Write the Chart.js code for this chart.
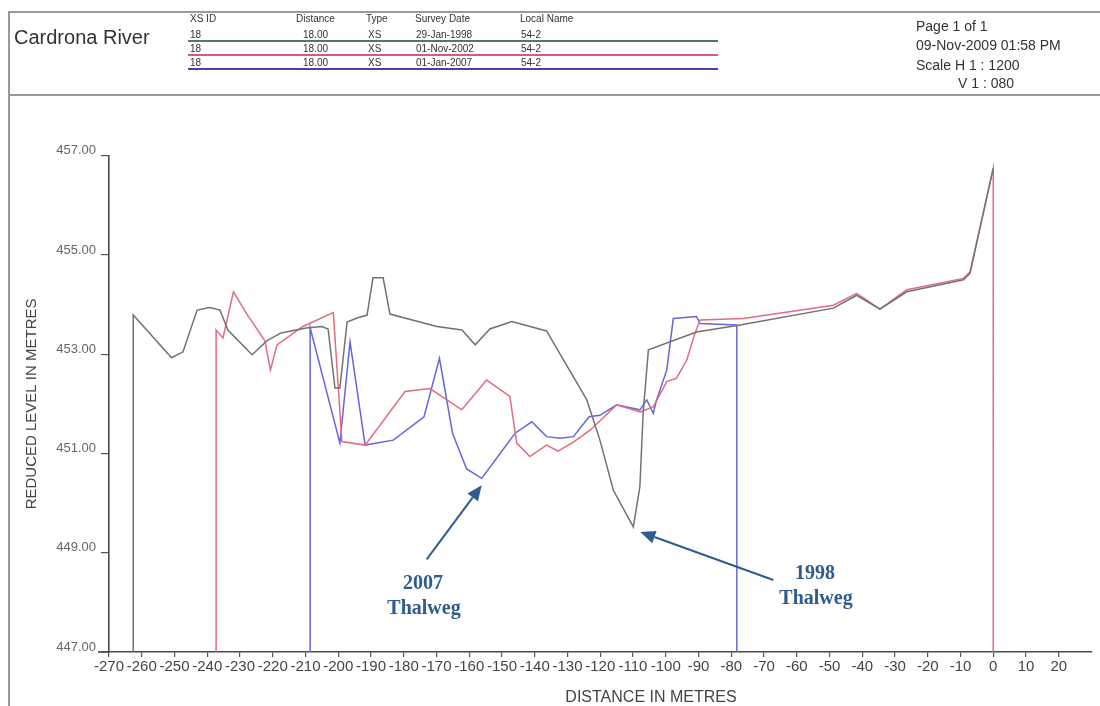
<!DOCTYPE html>
<html>
<head>
<meta charset="utf-8">
<script src="https://cdn.jsdelivr.net/npm/chart.js@4.4.1/dist/chart.umd.min.js"></script>
<style>
  html, body { margin:0; padding:0; background:#fff; }
  #wrap { position:relative; width:1100px; height:706px; overflow:hidden; font-family:"Liberation Sans", Arial, sans-serif; color:#333; }
  #c { position:absolute; left:0; top:0; }
  .t { position:absolute; white-space:nowrap; transform:translateY(-50%); line-height:1; }
  .hd { font-size:10px; color:#333; }
  .ln { position:absolute; height:0; }
  .ann { position:absolute; white-space:nowrap; transform:translate(-50%,-50%); font-family:"Liberation Serif","Times New Roman",serif; font-weight:bold; font-size:20px; color:#2f5c8f; line-height:1; }
</style>
</head>
<body>
<div id="wrap">
  <canvas id="c" width="1100" height="706"></canvas>

  <!-- frame -->
  <div class="ln" style="left:8px;top:11px;width:1092px;border-top:2px solid #9a9a9a;"></div>
  <div class="ln" style="left:8px;top:94px;width:1092px;border-top:2px solid #9a9a9a;"></div>
  <div style="position:absolute;left:8px;top:11px;width:0;height:695px;border-left:2px solid #9a9a9a;"></div>

  <!-- title block -->
  <div class="t" style="left:14px;top:37px;font-size:20px;color:#333;">Cardrona River</div>

  <div class="t hd" style="left:190px;top:19px;">XS ID</div>
  <div class="t hd" style="left:296px;top:19px;">Distance</div>
  <div class="t hd" style="left:366px;top:19px;">Type</div>
  <div class="t hd" style="left:415px;top:19px;">Survey Date</div>
  <div class="t hd" style="left:520px;top:19px;">Local Name</div>

  <div class="t hd" style="left:190px;top:35px;">18</div>
  <div class="t hd" style="left:303px;top:35px;">18.00</div>
  <div class="t hd" style="left:368px;top:35px;">XS</div>
  <div class="t hd" style="left:416px;top:35px;">29-Jan-1998</div>
  <div class="t hd" style="left:521px;top:35px;">54-2</div>
  <div class="ln" style="left:188px;top:40px;width:530px;border-top:2px solid #4d7d5d;"></div>

  <div class="t hd" style="left:190px;top:49px;">18</div>
  <div class="t hd" style="left:303px;top:49px;">18.00</div>
  <div class="t hd" style="left:368px;top:49px;">XS</div>
  <div class="t hd" style="left:416px;top:49px;">01-Nov-2002</div>
  <div class="t hd" style="left:521px;top:49px;">54-2</div>
  <div class="ln" style="left:188px;top:54px;width:530px;border-top:2px solid #d85a78;"></div>

  <div class="t hd" style="left:190px;top:63px;">18</div>
  <div class="t hd" style="left:303px;top:63px;">18.00</div>
  <div class="t hd" style="left:368px;top:63px;">XS</div>
  <div class="t hd" style="left:416px;top:63px;">01-Jan-2007</div>
  <div class="t hd" style="left:521px;top:63px;">54-2</div>
  <div class="ln" style="left:188px;top:68px;width:530px;border-top:2px solid #4444a8;"></div>

  <div class="t" style="left:916px;top:26px;font-size:14px;">Page 1 of 1</div>
  <div class="t" style="left:916px;top:45px;font-size:14px;">09-Nov-2009 01:58 PM</div>
  <div class="t" style="left:916px;top:65px;font-size:14px;">Scale H 1 : 1200</div>
  <div class="t" style="left:958px;top:83px;font-size:14px;">V 1 : 080</div>

  <!-- x axis title -->
  <div class="t" style="left:651px;top:697px;font-size:16px;color:#444;transform:translate(-50%,-50%);">DISTANCE IN METRES</div>

  <!-- annotations -->
  <div class="ann" style="left:423px;top:582px;">2007</div>
  <div class="ann" style="left:424px;top:607px;">Thalweg</div>
  <div class="ann" style="left:815px;top:572px;">1998</div>
  <div class="ann" style="left:816px;top:597px;">Thalweg</div>
</div>

<script>
// ---- data (distance in metres, reduced level in metres) ----
const series1998X = [-262.6,-262.6,-250.9,-247.4,-243.1,-239.2,-236.1,-233.7,-226.3,-221.8,-217.5,-209.8,-205.0,-203.1,-201.0,-199.5,-197.3,-194.3,-191.2,-189.4,-186.3,-184.2,-169.9,-162.2,-158.2,-153.7,-147.0,-136.4,-124.1,-120.1,-116.0,-109.9,-107.9,-106.9,-105.3,-90.6,-77.3,-48.8,-41.7,-34.6,-26.4,-9.1,-7.1,0.0];
const series1998Y = [447,453.79,452.93,453.05,453.89,453.94,453.89,453.49,452.99,453.27,453.43,453.53,453.56,453.51,452.32,452.32,453.65,453.73,453.79,454.54,454.54,453.81,453.56,453.49,453.19,453.51,453.66,453.47,452.08,451.27,450.26,449.52,450.33,451.82,453.09,453.45,453.59,453.93,454.19,453.91,454.26,454.50,454.63,456.75];

const series2002X = [-237.3,-237.3,-235.2,-232.0,-227.9,-222.4,-220.7,-218.7,-210.8,-201.5,-198.9,-191.8,-179.6,-172.0,-162.3,-154.7,-147.6,-145.5,-141.5,-136.4,-132.9,-128.2,-123.1,-115.0,-107.9,-103.8,-99.7,-96.7,-93.6,-91.1,-89.5,-76.3,-48.8,-41.7,-34.6,-26.4,-9.1,-7.1,0.0,0.0];
const series2002Y = [447,453.49,453.33,454.26,453.81,453.27,452.68,453.19,453.56,453.84,451.24,451.17,452.25,452.31,451.88,452.48,452.15,451.21,450.94,451.17,451.05,451.23,451.47,451.98,451.84,451.94,452.45,452.52,452.88,453.42,453.69,453.72,453.99,454.23,453.91,454.30,454.53,454.66,456.75,447];

const series2007X = [-208.6,-208.6,-199.5,-196.4,-191.8,-183.2,-173.8,-169.1,-165.1,-160.8,-156.2,-151.6,-146.0,-140.9,-136.4,-132.3,-128.2,-123.4,-120.1,-115.0,-107.9,-105.8,-103.8,-102.8,-99.7,-97.7,-90.6,-89.5,-78.3,-78.3];
const series2007Y = [447,453.54,451.21,453.25,451.17,451.27,451.74,452.92,451.41,450.69,450.50,450.91,451.41,451.64,451.34,451.31,451.34,451.74,451.77,451.98,451.88,452.08,451.81,452.08,452.68,453.72,453.76,453.62,453.59,447];

const xTickValues = [-270,-260,-250,-240,-230,-220,-210,-200,-190,-180,-170,-160,-150,-140,-130,-120,-110,-100,-90,-80,-70,-60,-50,-40,-30,-20,-10,0,10,20];
const yTickValues = [447,449,451,453,455,457];

const toPts = (xs, ys) => xs.map((x, i) => ({ x: x, y: ys[i] }));

function thalweg(xs, ys) {
  let best = -1;
  ys.forEach((v, i) => { if (v > 447 && (best < 0 || v < ys[best])) best = i; });
  return { x: xs[best], y: ys[best] };
}

const arrowPlugin = {
  id: 'thalwegArrows',
  afterDatasetsDraw(chart) {
    const { ctx, chartArea, scales: { x, y } } = chart;
    // short extension of the distance axis to the left of the level axis
    ctx.save();
    ctx.strokeStyle = '#4a4a4a'; ctx.lineWidth = 1.6;
    ctx.beginPath(); ctx.moveTo(chartArea.left - 11, chartArea.bottom); ctx.lineTo(chartArea.left, chartArea.bottom); ctx.stroke();
    ctx.restore();

    const col = '#2f5c8f';
    function arrow(hx, hy, tx, ty) {
      ctx.save();
      ctx.strokeStyle = col; ctx.fillStyle = col; ctx.lineWidth = 2;
      const ang = Math.atan2(hy - ty, hx - tx);
      const L = 15, W = 6.5;
      const bx = hx - L * Math.cos(ang), by = hy - L * Math.sin(ang);
      ctx.beginPath(); ctx.moveTo(tx, ty); ctx.lineTo(bx, by); ctx.stroke();
      ctx.beginPath();
      ctx.moveTo(hx, hy);
      ctx.lineTo(bx + W * Math.sin(ang), by - W * Math.cos(ang));
      ctx.lineTo(bx - W * Math.sin(ang), by + W * Math.cos(ang));
      ctx.closePath(); ctx.fill();
      ctx.restore();
    }
    const t07 = thalweg(series2007X, series2007Y);
    const p07x = x.getPixelForValue(t07.x), p07y = y.getPixelForValue(t07.y);
    arrow(p07x, p07y + 7, p07x - 55, p07y + 81);
    const t98 = thalweg(series1998X, series1998Y);
    const p98x = x.getPixelForValue(t98.x), p98y = y.getPixelForValue(t98.y);
    arrow(p98x + 7, p98y + 5, p98x + 140, p98y + 53);
  }
};

const axisFont = { family: "'Liberation Sans', Arial, sans-serif" };

new Chart(document.getElementById('c').getContext('2d'), {
  type: 'scatter',
  data: {
    datasets: [
      { label: '29-Jan-1998', data: toPts(series1998X, series1998Y), showLine: true, borderColor: '#727272', borderWidth: 1.5, pointRadius: 0, tension: 0, fill: false },
      { label: '01-Nov-2002', data: toPts(series2002X, series2002Y), showLine: true, borderColor: '#e46c80', borderWidth: 1.5, pointRadius: 0, tension: 0, fill: false },
      { label: '01-Jan-2007', data: toPts(series2007X, series2007Y), showLine: true, borderColor: '#6666dc', borderWidth: 1.5, pointRadius: 0, tension: 0, fill: false }
    ]
  },
  options: {
    responsive: false,
    animation: false,
    layout: { padding: { left: 20, right: 8.5, top: 155.8, bottom: 0 } },
    plugins: { legend: { display: false }, tooltip: { enabled: false } },
    scales: {
      x: {
        type: 'linear', min: -270, max: 30,
        afterBuildTicks: (s) => { s.ticks = xTickValues.map(v => ({ value: v })); },
        afterFit: (s) => { s.height = 54; },
        grid: { drawOnChartArea: false, drawTicks: true, tickLength: 5, color: '#555', lineWidth: 1.2 },
        border: { display: true, color: '#4a4a4a', width: 1.6 },
        ticks: { autoSkip: false, maxRotation: 0, minRotation: 0, padding: 1, color: '#444', font: Object.assign({ size: 15 }, axisFont), callback: (v) => String(v) }
      },
      y: {
        type: 'linear', min: 447, max: 457,
        afterBuildTicks: (s) => { s.ticks = yTickValues.map(v => ({ value: v })); },
        afterFit: (s) => { s.width = 89; },
        grid: { drawOnChartArea: false, drawTicks: true, tickLength: 8, color: '#555', lineWidth: 1.2 },
        border: { display: true, color: '#4a4a4a', width: 1.6 },
        ticks: { padding: 5, labelOffset: -5, color: '#666', font: Object.assign({ size: 13 }, axisFont), callback: (v) => Number(v).toFixed(2) },
        title: { display: true, text: 'REDUCED LEVEL IN METRES', color: '#444', padding: { top: 3, bottom: 0 }, font: Object.assign({ size: 15 }, axisFont) }
      }
    }
  },
  plugins: [arrowPlugin]
});
</script>
</body>
</html>
